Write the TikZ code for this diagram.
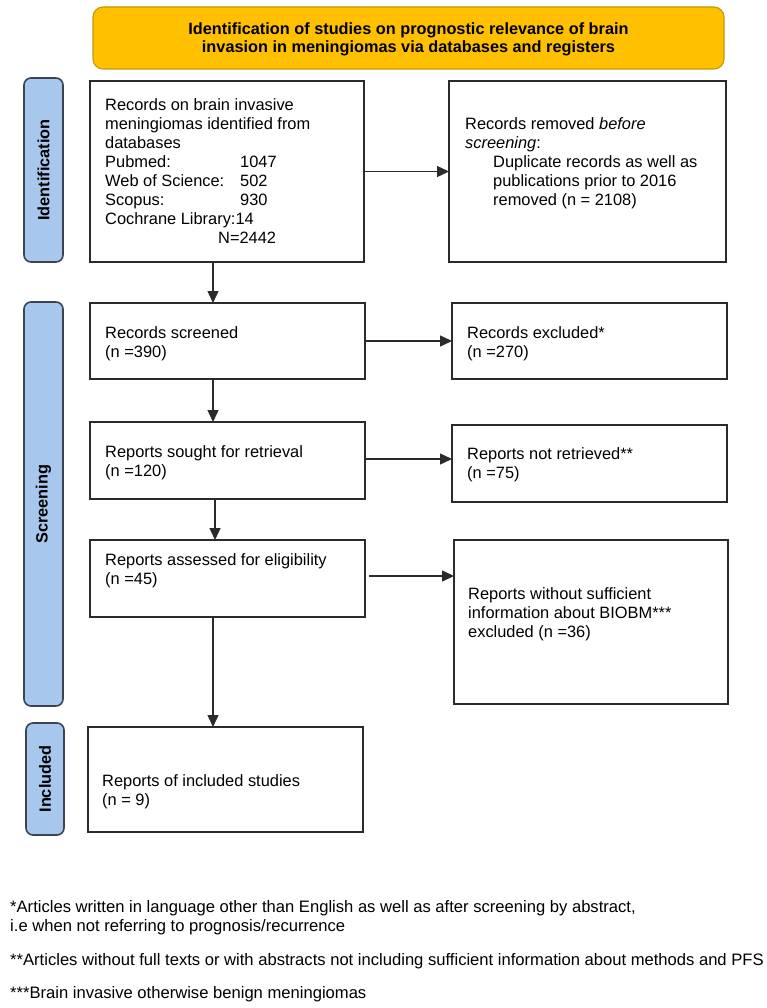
\documentclass[tikz,border=0pt]{standalone}
\usepackage{fontspec}
\setmainfont{Liberation Sans}
\usetikzlibrary{arrows.meta,calc}
\definecolor{hdrfill}{HTML}{FFC000}
\definecolor{hdrdraw}{HTML}{C99700}
\definecolor{barfill}{HTML}{A7C7EC}
\definecolor{bardraw}{HTML}{3A4452}
\definecolor{boxdraw}{HTML}{2B2B2B}
\begin{document}
\begin{tikzpicture}[x=1pt,y=-1pt,
  box/.style={draw=boxdraw,line width=1.4pt,fill=white,inner sep=0pt,outer sep=0pt,anchor=north west},
  hdr/.style={draw=hdrdraw,line width=1.1pt,fill=hdrfill,rounded corners=10pt,inner sep=0pt,outer sep=0pt,anchor=north west},
  sidebar/.style={draw=bardraw,line width=1.6pt,fill=barfill,rounded corners=7pt,inner sep=0pt,outer sep=0pt,anchor=north west},
  bartext/.style={rotate=90,font=\fontsize{16.3}{18}\selectfont\bfseries,inner sep=0pt},
  txt/.style={anchor=base west,inner sep=0pt,font=\fontsize{16.4}{19}\selectfont},
  foot/.style={anchor=base west,inner sep=0pt,font=\fontsize{16.6}{19}\selectfont},
  arr/.style={draw=boxdraw,line width=1.4pt,-{Triangle[length=12pt,width=11pt]}}
]
\useasboundingbox (0,0) rectangle (767,1008);
% header
\node[hdr,minimum width=631pt,minimum height=62pt] (hdr) at (93,7) {};
\node[inner sep=0pt,align=center,font=\fontsize{16.3}{17.7}\selectfont\bfseries] (hdrt) at (408.5,39.5)
  {Identification of studies on prognostic relevance of brain\\invasion in meningiomas via databases and registers};
% side bars
\node[sidebar,minimum width=39pt,minimum height=184pt] (idbar) at (24,78) {};
\node[bartext] (idbart) at (idbar.center) {Identification};
\node[sidebar,minimum width=39pt,minimum height=404pt] (scbar) at (24,302) {};
\node[bartext] (scbart) at (scbar.center) {Screening};
\node[sidebar,minimum width=38pt,minimum height=112pt] (incbar) at (26,723) {};
\node[bartext] (incbart) at (incbar.center) {Included};
% boxes
\node[box,minimum width=274pt,minimum height=181pt] (b1) at (90,81) {};
\node[box,minimum width=277pt,minimum height=181pt] (b2) at (449,81) {};
\node[box,minimum width=275pt,minimum height=76pt] (b3) at (90,303) {};
\node[box,minimum width=275pt,minimum height=76pt] (b4) at (452,303) {};
\node[box,minimum width=275pt,minimum height=77pt] (b5) at (90,422) {};
\node[box,minimum width=275pt,minimum height=77pt] (b6) at (452,425) {};
\node[box,minimum width=275pt,minimum height=77pt] (b7) at (90,540) {};
\node[box,minimum width=274pt,minimum height=164pt] (b8) at (454,540) {};
\node[box,minimum width=275pt,minimum height=105pt] (b9) at (88,727) {};
% texts
\node[txt] (b1t) at (105,111) {\parbox[t]{250pt}{Records on brain invasive\\meningiomas identified from\\databases\\
  \makebox[135pt][l]{Pubmed:}1047\\\makebox[135pt][l]{Web of Science:}502\\\makebox[135pt][l]{Scopus:}930\\
  Cochrane Library:14\\\hspace*{113pt}N=2442}};
\node[txt] (b2t) at (465,130) {\parbox[t]{255pt}{Records removed \textit{before}\\\textit{screening}:\\
  \hspace*{28pt}Duplicate records as well as\\\hspace*{28pt}publications prior to 2016\\\hspace*{28pt}removed (n = 2108)}};
\node[txt] (b3t) at (105,338) {\parbox[t]{250pt}{Records screened\\(n =390)}};
\node[txt] (b4t) at (467,338) {\parbox[t]{250pt}{Records excluded*\\(n =270)}};
\node[txt] (b5t) at (105,457) {\parbox[t]{250pt}{Reports sought for retrieval\\(n =120)}};
\node[txt] (b6t) at (467,459.5) {\parbox[t]{250pt}{Reports not retrieved**\\(n =75)}};
\node[txt] (b7t) at (105,565) {\parbox[t]{250pt}{Reports assessed for eligibility\\(n =45)}};
\node[txt] (b8t) at (468,599) {\parbox[t]{255pt}{Reports without sufficient\\information about BIOBM***\\excluded (n =36)}};
\node[txt] (b9t) at (102,786) {\parbox[t]{250pt}{Reports of included studies\\(n = 9)}};
% footnotes
\node[foot] (f1) at (10,912) {*Articles written in language other than English as well as after screening by abstract,};
\node[foot] (f1b) at (10,931) {i.e when not referring to prognosis/recurrence};
\node[foot] (f2) at (10,965) {**Articles without full texts or with abstracts not including sufficient information about methods and PFS};
\node[foot] (f3) at (10,998) {***Brain invasive otherwise benign meningiomas};
% connectors
\coordinate (colx) at (213,0);
\coordinate (a5) at ([yshift=1.5pt]b5.east);
\coordinate (a7) at ([xshift=4pt,yshift=2.5pt]b7.east);
\coordinate (a5b) at ([xshift=2pt]b5.south -| colx);
\coordinate (a7b) at ([xshift=2pt]b7.north -| colx);
\draw[arr] (b1.east) -- (b2.west);
\draw[arr] (b3.east) -- (b4.west |- b3.east);
\draw[arr] (a5) -- (b6.west |- a5);
\draw[arr] (a7) -- (b8.west |- a7);
\draw[arr] (b1.south -| colx) -- (b3.north -| colx);
\draw[arr] (b3.south -| colx) -- (b5.north -| colx);
\draw[arr] (a5b) -- (a7b);
\draw[arr] (b7.south -| colx) -- (b9.north -| colx);
\end{tikzpicture}
\end{document}
